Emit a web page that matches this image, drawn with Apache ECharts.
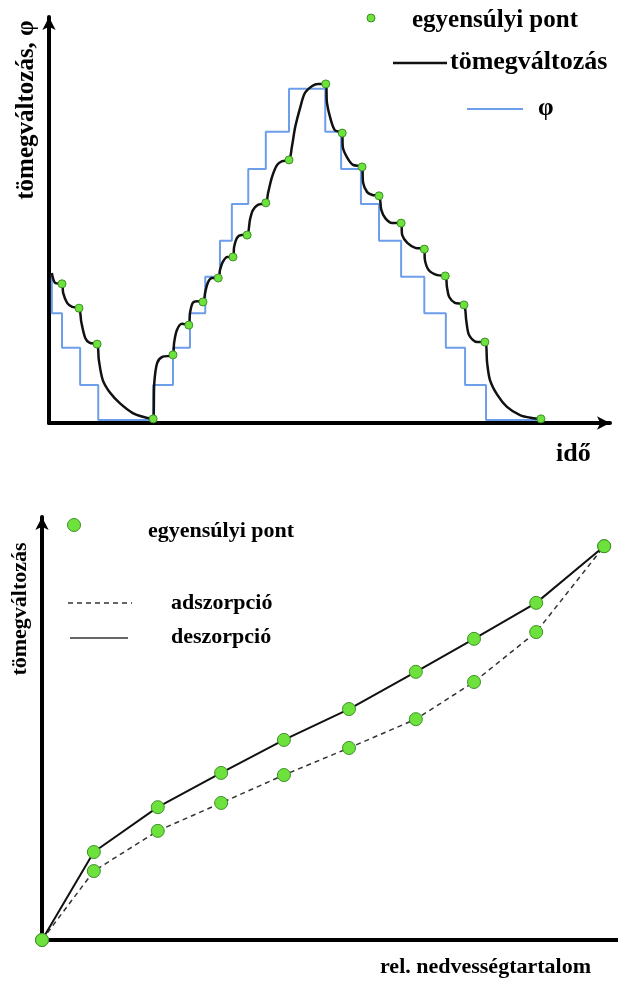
<!DOCTYPE html>
<html><head><meta charset="utf-8">
<script src="https://cdn.jsdelivr.net/npm/echarts@6/dist/echarts.min.js"></script>
<style>html,body{margin:0;padding:0;background:#fff}#c{width:618px;height:981px}</style>
</head><body><div id="c"></div>
<script>
// ---------- Top chart data (arbitrary units: time 0..100, value 0..100) ----------
// φ step function: each point = [time where level starts, level]
const phiSteps = [
  [0.5, 36.3], [0.5, 26.6], [2.3, 18.2], [5.5, 9.2], [8.7, 0.7],
  [18.4, 9.2], [21.9, 18.2], [24.9, 26.6], [27.6, 35.4], [30.2, 44.1],
  [32.3, 53.0], [35.2, 61.5], [38.3, 70.5], [42.4, 80.9],
  [48.8, 70.5], [51.6, 61.5], [55.1, 53.0], [58.3, 44.1], [62.2, 35.4],
  [66.3, 26.6], [70.1, 18.2], [73.5, 9.2], [77.2, 0.7], [86.9, 0.7]
];
// mass change curve (tömegváltozás)
const massCurve = [
  [0.5, 36.3], [1.1, 33.9], [2.3, 33.7], [2.5, 31.5], [3.2, 29.1], [4.1, 28.1], [5.3, 27.8],
  [5.7, 24.5], [6.4, 20.6], [7.2, 19.4], [8.5, 19.1],
  [8.8, 15.3], [9.5, 10.4], [10.8, 7.3], [12.5, 4.8], [14.8, 2.4], [16.6, 1.5], [18.4, 1.0],
  [18.6, 9.7], [19.1, 14.5], [20.0, 16.0], [21.9, 16.5],
  [22.1, 19.4], [22.6, 22.5], [23.5, 24.0], [24.7, 23.7],
  [24.9, 26.6], [25.4, 29.1], [26.2, 29.5], [27.2, 29.3],
  [27.6, 31.7], [28.1, 34.1], [28.8, 35.1], [29.9, 35.1],
  [30.2, 37.0], [30.7, 39.0], [31.5, 40.2], [32.5, 40.2],
  [32.7, 42.6], [33.2, 44.8], [34.1, 45.5], [35.0, 45.5],
  [35.5, 49.2], [36.0, 51.5], [36.9, 52.8], [38.3, 53.3],
  [38.7, 55.7], [39.4, 59.6], [40.3, 62.5], [41.2, 63.4], [42.4, 63.7],
  [42.9, 66.8], [43.5, 71.7], [44.4, 76.5], [45.2, 79.9], [46.5, 81.6], [47.5, 82.1], [48.9, 82.1],
  [49.1, 77.5], [49.7, 73.8], [50.5, 70.9], [51.8, 70.2],
  [51.9, 66.8], [52.7, 64.2], [53.7, 62.5], [55.3, 62.0],
  [55.5, 58.1], [56.2, 55.9], [57.1, 55.2], [58.3, 55.0],
  [58.7, 51.6], [59.4, 49.6], [60.6, 48.4], [62.2, 48.4],
  [62.4, 45.5], [63.3, 43.6], [64.7, 42.4], [66.3, 42.1],
  [66.4, 39.5], [67.1, 37.0], [68.6, 35.8], [70.0, 35.6],
  [70.3, 32.9], [70.7, 30.5], [71.7, 29.1], [73.3, 28.6],
  [73.7, 24.9], [74.2, 21.3], [75.6, 19.6], [77.0, 19.6],
  [77.4, 14.5], [77.9, 10.4], [79.2, 6.8], [80.9, 3.9], [83.2, 1.9], [85.3, 1.2], [86.9, 1.0]
];
// equilibrium points (egyensúlyi pont)
const eqPointsTop = [
  [2.3, 33.7], [5.3, 27.8], [8.5, 19.1], [18.4, 1.0], [21.9, 16.5], [24.7, 23.7],
  [27.2, 29.3], [29.9, 35.1], [32.5, 40.2], [35.0, 45.5], [38.3, 53.3], [42.4, 63.7],
  [48.9, 82.1], [51.8, 70.2], [55.3, 62.0], [58.3, 55.0], [62.2, 48.4], [66.3, 42.1],
  [70.0, 35.6], [73.3, 28.6], [77.0, 19.6], [86.9, 1.0]
];

// ---------- Bottom chart data ----------
const relHumidity = [0, 9.0, 20.1, 31.1, 42.0, 53.3, 64.9, 75.0, 85.8, 97.6];
const desorption  = [0, 20.8, 31.4, 39.5, 47.3, 54.6, 63.4, 71.2, 79.7, 93.1];
const adsorption  = [0, 16.3, 25.8, 32.4, 39.0, 45.4, 52.2, 61.0, 72.8, 93.1];

const FONT = "'Liberation Serif','Times New Roman',serif";
const GREEN = '#6ee23c', GREEN_B = '#3d9128', BLUE = '#6d9eea';

const desPairs = relHumidity.map((x, i) => [x, desorption[i]]);
const adsPairs = relHumidity.map((x, i) => [x, adsorption[i]]);

function axisBase(arrow) {
  return {
    axisLine: { show: true, onZero: false,
      lineStyle: { color: '#000', width: 4 },
      symbol: arrow ? ['none', 'arrow'] : ['none', 'none'], symbolSize: [10, 13] },
    axisTick: { show: false }, axisLabel: { show: false }, splitLine: { show: false }
  };
}
function txt(text, x, y, size, rot) {
  const el = { type: 'text', x: x, y: y, style: { text: text, fill: '#000',
    font: 'bold ' + size + 'px ' + FONT, textAlign: rot ? 'center' : 'left', textVerticalAlign: 'middle' } };
  if (rot) el.rotation = Math.PI / 2;
  return el;
}
const eqStyle = { color: GREEN, borderColor: GREEN_B, borderWidth: 1, opacity: 1 };

const chart = echarts.init(document.getElementById('c'), null, { renderer: 'canvas' });
chart.setOption({
  animation: false,
  backgroundColor: '#fff',
  grid: [
    { left: 49, right: 8, top: 17, bottom: 558 },
    { left: 42, right: 0, top: 517, bottom: 41 }
  ],
  xAxis: [
    Object.assign({ type: 'value', gridIndex: 0, min: 0, max: 99.1 }, axisBase(true)),
    Object.assign({ type: 'value', gridIndex: 1, min: 0, max: 100 }, axisBase(false))
  ],
  yAxis: [
    Object.assign({ type: 'value', gridIndex: 0, min: 0, max: 98.3 }, axisBase(true)),
    Object.assign({ type: 'value', gridIndex: 1, min: 0, max: 100 }, axisBase(true))
  ],
  series: [
    { name: 'φ', type: 'line', xAxisIndex: 0, yAxisIndex: 0, step: 'end', data: phiSteps,
      showSymbol: false, lineStyle: { color: BLUE, width: 2 }, z: 2 },
    { name: 'tömegváltozás', type: 'line', xAxisIndex: 0, yAxisIndex: 0, data: massCurve,
      smooth: 0.3, showSymbol: false,
      lineStyle: { color: '#111', width: 2.5 }, z: 3 },
    { name: 'egyensúlyi pont', type: 'scatter', xAxisIndex: 0, yAxisIndex: 0, data: eqPointsTop,
      symbolSize: 8, itemStyle: eqStyle, z: 5 },
    { name: 'adszorpció', type: 'line', xAxisIndex: 1, yAxisIndex: 1, data: adsPairs,
      showSymbol: false, lineStyle: { color: '#333', width: 1.5, type: [5, 4] }, z: 3 },
    { name: 'deszorpció', type: 'line', xAxisIndex: 1, yAxisIndex: 1, data: desPairs,
      showSymbol: false, lineStyle: { color: '#111', width: 2 }, z: 3 },
    { name: 'egyensúlyi pont (adsz.)', type: 'scatter', xAxisIndex: 1, yAxisIndex: 1, data: adsPairs,
      symbolSize: 13, itemStyle: eqStyle, z: 5 },
    { name: 'egyensúlyi pont (desz.)', type: 'scatter', xAxisIndex: 1, yAxisIndex: 1, data: desPairs,
      symbolSize: 13, itemStyle: eqStyle, z: 5 }
  ],
  graphic: [
    // top chart titles
    txt('tömegváltozás, φ', 27, 110, 25, true),
    txt('idő', 556, 454, 26),
    // top legend
    { type: 'circle', shape: { cx: 371, cy: 18, r: 4 }, style: { fill: GREEN, stroke: GREEN_B, lineWidth: 1 } },
    txt('egyensúlyi pont', 412, 21, 25),
    { type: 'line', shape: { x1: 393, y1: 63, x2: 447, y2: 63 }, style: { stroke: '#111', lineWidth: 2.5 } },
    txt('tömegváltozás', 450, 62, 26),
    { type: 'line', shape: { x1: 467, y1: 109, x2: 523, y2: 109 }, style: { stroke: BLUE, lineWidth: 2 } },
    txt('φ', 538, 109, 25),
    // bottom chart titles
    txt('tömegváltozás', 20, 609, 22, true),
    txt('rel. nedvességtartalom', 380, 967, 22),
    // bottom legend
    { type: 'circle', shape: { cx: 74, cy: 525, r: 6.5 }, style: { fill: GREEN, stroke: GREEN_B, lineWidth: 1 } },
    txt('egyensúlyi pont', 148, 531, 22),
    { type: 'line', shape: { x1: 68, y1: 603, x2: 132, y2: 603 }, style: { stroke: '#333', lineWidth: 1.3, lineDash: [5, 4] } },
    txt('adszorpció', 171, 603, 22),
    { type: 'line', shape: { x1: 70, y1: 638, x2: 128, y2: 638 }, style: { stroke: '#333', lineWidth: 1.5 } },
    txt('deszorpció', 171, 637, 22)
  ]
});
</script>
</body></html>
